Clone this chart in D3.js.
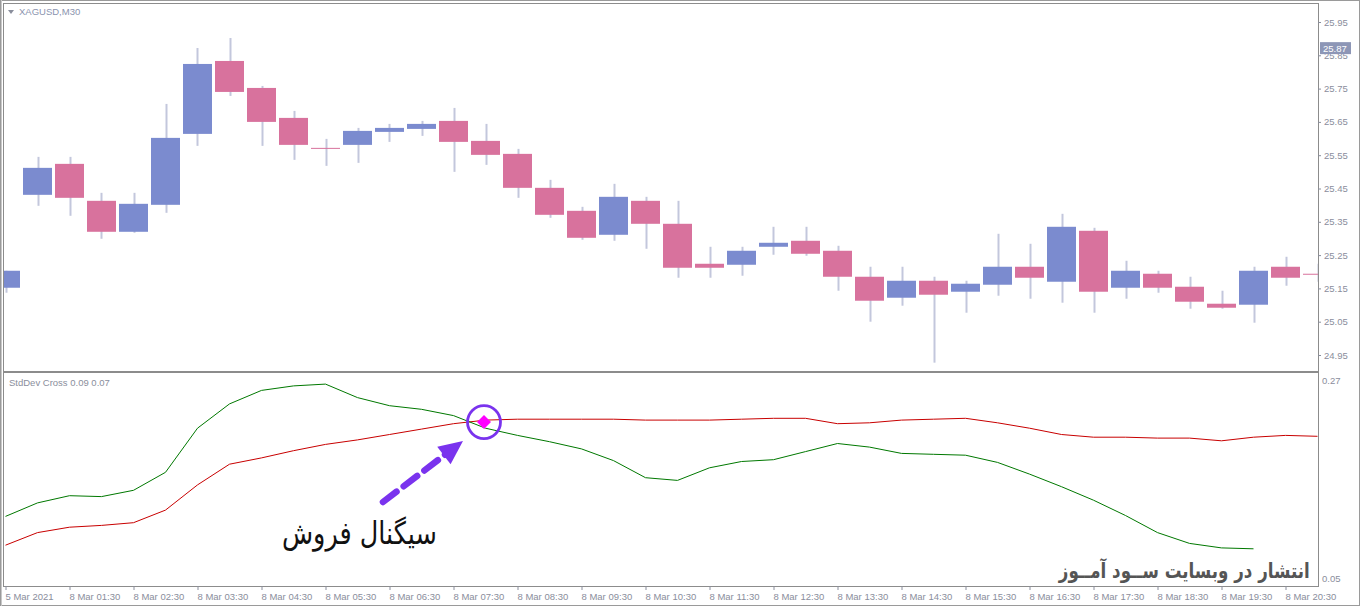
<!DOCTYPE html>
<html><head><meta charset="utf-8">
<script src="https://cdn.jsdelivr.net/npm/d3@7"></script>
<style>
html,body{margin:0;padding:0;background:#fff;}
svg{display:block;}
.ax text{font-family:"Liberation Sans",Arial,sans-serif;font-size:9.5px;fill:#8a8e9c;}
.ax line{stroke:#8a8e9c;}
.ax path{display:none;}
</style></head>
<body>
<svg id="c" width="1360" height="606"></svg>
<script>
// ---- data ----
const symbolLabel = "XAGUSD,M30";
const indicatorLabel = "StdDev Cross 0.09 0.07";
const timeLabels = ["5 Mar 2021","8 Mar 01:30","8 Mar 02:30","8 Mar 03:30","8 Mar 04:30","8 Mar 05:30","8 Mar 06:30","8 Mar 07:30","8 Mar 08:30","8 Mar 09:30","8 Mar 10:30","8 Mar 11:30","8 Mar 12:30","8 Mar 13:30","8 Mar 14:30","8 Mar 15:30","8 Mar 16:30","8 Mar 17:30","8 Mar 18:30","8 Mar 19:30","8 Mar 20:30"];
const timeLabelIndex = [0,2,4,6,8,10,12,14,16,18,20,22,24,26,28,30,32,34,36,38,40];
const open  = [25.152,25.431,25.524,25.413,25.320,25.401,25.614,25.833,25.752,25.662,25.572,25.581,25.620,25.629,25.653,25.593,25.554,25.452,25.383,25.311,25.413,25.344,25.224,25.221,25.275,25.293,25.263,25.185,25.122,25.173,25.140,25.161,25.215,25.170,25.323,25.152,25.194,25.155,25.104,25.101,25.215,25.194];
const high  = [25.203,25.545,25.545,25.437,25.437,25.704,25.872,25.902,25.758,25.683,25.599,25.632,25.644,25.653,25.692,25.644,25.569,25.476,25.395,25.464,25.425,25.413,25.275,25.275,25.335,25.335,25.278,25.215,25.215,25.185,25.173,25.314,25.284,25.374,25.332,25.233,25.203,25.185,25.143,25.215,25.245,25.224];
const low   = [25.137,25.398,25.368,25.299,25.317,25.377,25.578,25.728,25.578,25.536,25.518,25.527,25.590,25.608,25.500,25.521,25.422,25.362,25.296,25.293,25.269,25.182,25.182,25.188,25.251,25.248,25.143,25.050,25.098,24.927,25.077,25.128,25.119,25.107,25.077,25.119,25.137,25.089,25.089,25.047,25.158,25.170];
const close = [25.203,25.512,25.422,25.320,25.404,25.602,25.824,25.740,25.650,25.581,25.572,25.623,25.632,25.644,25.590,25.551,25.452,25.371,25.302,25.425,25.344,25.212,25.212,25.263,25.287,25.254,25.185,25.113,25.173,25.131,25.164,25.215,25.182,25.335,25.140,25.203,25.152,25.110,25.092,25.203,25.182,25.194];
const stdFast = [0.119,0.134,0.142,0.141,0.148,0.168,0.217,0.244,0.259,0.264,0.266,0.251,0.242,0.238,0.231,0.217,0.209,0.202,0.194,0.181,0.162,0.159,0.173,0.180,0.182,0.191,0.200,0.196,0.189,0.188,0.187,0.179,0.166,0.152,0.137,0.120,0.101,0.089,0.084,0.083];
const stdSlow = [0.087,0.101,0.107,0.109,0.112,0.126,0.154,0.177,0.184,0.192,0.199,0.204,0.210,0.216,0.222,0.226,0.227,0.227,0.227,0.227,0.226,0.226,0.226,0.227,0.228,0.228,0.222,0.223,0.226,0.227,0.228,0.223,0.217,0.210,0.207,0.207,0.206,0.206,0.203,0.207,0.209,0.208];
const priceTicks = [25.95,25.85,25.75,25.65,25.55,25.45,25.35,25.25,25.15,25.05,24.95];
const indTicks = [0.27,0.05];
const currentPrice = 25.87;
const signalIndex = 15;
const signalText = "سیگنال فروش";
const watermark = "انتشار در وبسایت ســود آمــوز";

// ---- layout ----
const svg = d3.select("#c");
const L = 4, R = 1318;
const main = {top:4, bottom:371};
const ind = {top:373, bottom:586};

const x = d3.scaleLinear().domain([0, 41]).range([5.5, 1317.5]);
const y = d3.scaleLinear().domain([24.95, 25.95]).range([355, 22]);
const yi = d3.scaleLinear().domain([0.05, 0.27]).range([578.5, 380.5]);
const bw = 29;

const BLUE = "#7b8bcf", PINK = "#d8729d", WICK = "#c3c7dc";

// outer frame
svg.append("rect").attr("x",0.5).attr("y",0.5).attr("width",1359).attr("height",605).attr("fill","none").attr("stroke","#9a9a9a");
svg.append("line").attr("x1",1.5).attr("x2",1.5).attr("y1",0).attr("y2",606).attr("stroke","#c8c8c8");

const defs = svg.append("defs");
defs.append("clipPath").attr("id","cm").append("rect").attr("x",L).attr("y",main.top).attr("width",R-L).attr("height",main.bottom-main.top);
defs.append("clipPath").attr("id","ci").append("rect").attr("x",L).attr("y",ind.top).attr("width",R-L).attr("height",ind.bottom-ind.top);

// panel borders
[main, ind].forEach(p=>{
  svg.append("rect").attr("x",L-0.5).attr("y",p.top-0.5).attr("width",R-L+1).attr("height",p.bottom-p.top+1)
    .attr("fill","#fff").attr("stroke","#8c8c8c");
});

// candles
const idx = d3.range(open.length);
const gm = svg.append("g").attr("clip-path","url(#cm)");
gm.selectAll("line.w").data(idx).join("line")
  .attr("x1",i=>Math.round(x(i))+0.5).attr("x2",i=>Math.round(x(i))+0.5)
  .attr("y1",i=>y(high[i])).attr("y2",i=>y(low[i]))
  .attr("stroke",WICK).attr("stroke-width",2);
gm.selectAll("rect.b").data(idx).join("rect")
  .attr("x",i=>x(i)-bw/2).attr("width",bw)
  .attr("y",i=>y(Math.max(open[i],close[i])))
  .attr("height",i=>Math.max(1, Math.abs(y(open[i])-y(close[i]))))
  .attr("fill",i=>close[i]>open[i]?BLUE:PINK);

// labels
svg.append("path").attr("d","M8,10 L14,10 L11,14 Z").attr("fill","#8a8e9c");
svg.append("text").attr("x",19).attr("y",15).attr("font-family","Liberation Sans, Arial").attr("font-size",9.5).attr("fill","#8a93ae").text(symbolLabel);
svg.append("text").attr("x",9).attr("y",386).attr("font-family","Liberation Sans, Arial").attr("font-size",9.5).attr("fill","#8a8e9c").text(indicatorLabel);

// price axis
const pa = svg.append("g").attr("class","ax").attr("transform",`translate(${R},0)`)
  .call(d3.axisRight(y).tickValues(priceTicks).tickSize(3).tickPadding(3).tickFormat(d3.format(".2f")));
// current price label
const cp = svg.append("g").attr("transform",`translate(${R+1},${y(currentPrice)})`);
cp.append("rect").attr("x",1).attr("y",-6.5).attr("width",31).attr("height",12).attr("fill","#8d96b6");
cp.append("text").attr("x",4).attr("y",3.5).attr("font-family","Liberation Sans, Arial").attr("font-size",9.5).attr("fill","#fff").text(currentPrice.toFixed(2));

// indicator axis
svg.append("g").attr("class","ax").attr("transform",`translate(${R},0)`)
  .call(d3.axisRight(yi).tickValues(indTicks).tickSize(0).tickPadding(4).tickFormat(d3.format(".2f")));

// indicator lines
const gi = svg.append("g").attr("clip-path","url(#ci)");
const line = d3.line().x((d,i)=>x(i)).y(d=>yi(d));
gi.append("path").attr("d",line(stdSlow)).attr("fill","none").attr("stroke","#c80000").attr("stroke-width",1);
gi.append("path").attr("d",line(stdFast)).attr("fill","none").attr("stroke","#007800").attr("stroke-width",1);

// time axis
const ta = svg.append("g").attr("class","ax").attr("transform",`translate(0,${ind.bottom})`)
  .call(d3.axisBottom(x).tickValues(timeLabelIndex).tickSize(4).tickPadding(3)
    .tickFormat((d,k)=>timeLabels[k]));
ta.selectAll("text").attr("text-anchor","start").attr("dx","-0.5");

// signal annotation
const sx = x(signalIndex)-1.5, sy = yi(stdSlow[signalIndex])+2;
const VIO = "#7a33ee";
svg.append("path").attr("d",`M${sx},${sy-7} L${sx+7},${sy} L${sx},${sy+7} L${sx-7},${sy} Z`).attr("fill","#ff00ff");
svg.append("circle").attr("cx",sx).attr("cy",sy).attr("r",16.5).attr("fill","none").attr("stroke",VIO).attr("stroke-width",2.8);
// arrow
const ax0 = 383, ay0 = 502, ax1 = 463, ay1 = 441;
const ang = Math.atan2(ay1-ay0, ax1-ax0);
const hl = 24, hw = 11;
const bx = ax1 - hl*Math.cos(ang), by = ay1 - hl*Math.sin(ang);
svg.append("line").attr("x1",ax0).attr("y1",ay0).attr("x2",bx+2*Math.cos(ang)).attr("y2",by+2*Math.sin(ang))
  .attr("stroke",VIO).attr("stroke-width",6.5).attr("stroke-dasharray","17,9").attr("stroke-linecap","round");
svg.append("path").attr("d",`M${ax1},${ay1} L${bx - hw*Math.sin(ang)},${by + hw*Math.cos(ang)} L${bx + hw*Math.sin(ang)},${by - hw*Math.cos(ang)} Z`).attr("fill",VIO);

// RTL texts, fitted to a target width (right edge, width)
function fitText(str, right, base, width, size, weight, color){
  const t = svg.append("text").attr("x",0).attr("y",0)
    .attr("font-family","DejaVu Sans, sans-serif").attr("font-size",size)
    .attr("font-weight",weight).attr("fill",color).text(str);
  const bb = t.node().getBBox();
  const s = width / bb.width;
  t.attr("transform",`translate(${right - bb.width*s - bb.x*s},${base}) scale(${s},1)`);
}
fitText(signalText, 437, 544, 155, 31, "normal", "#111");
fitText(watermark, 1310, 578, 252, 21, "bold", "#555");
</script>
</body></html>
